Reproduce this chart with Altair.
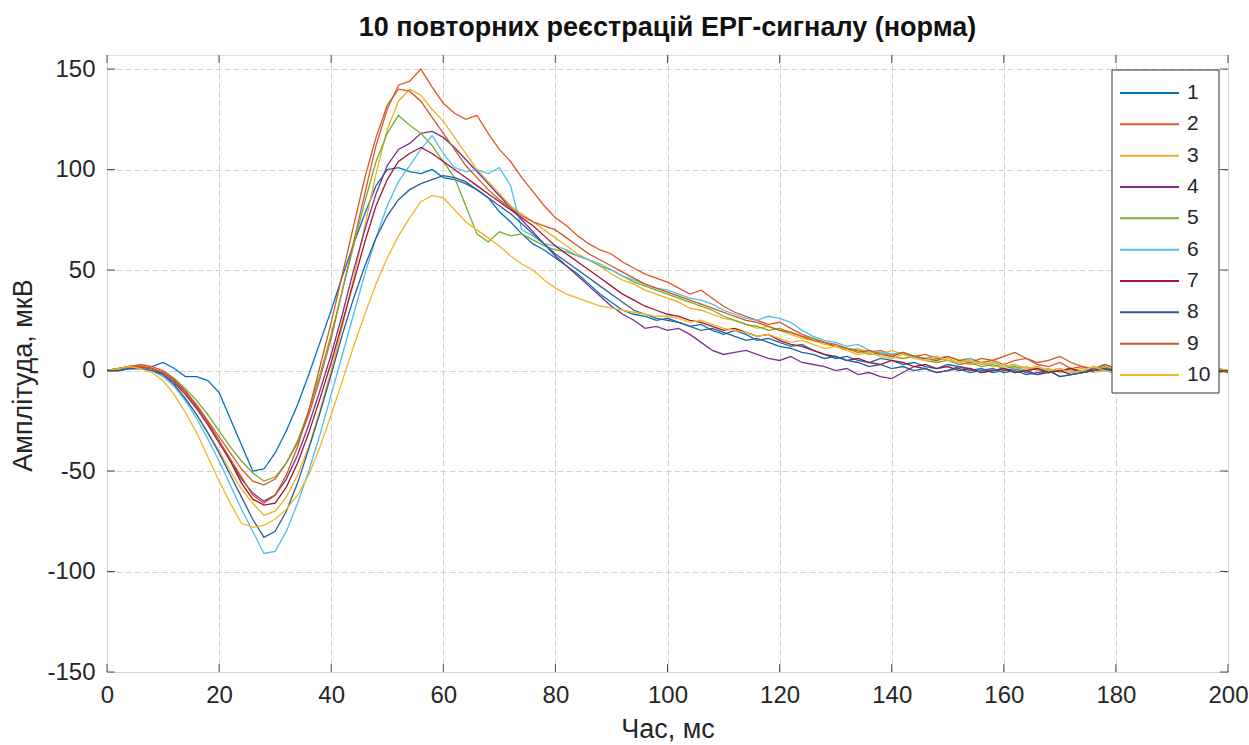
import altair as alt
import pandas as pd

# time axis (ms), sampled every 2 ms
t = list(range(0, 201, 2))

s1 = [0, 0, 1, 1, 2, 4, 1, -3, -3, -5,
      -11, -24, -37, -50, -49, -41, -30, -17, -2, 14,
      30, 47, 63, 78, 92, 100, 101, 99, 98, 100,
      96, 95, 93, 90, 86, 79, 74, 68, 63, 60,
      56, 52, 48, 43, 38, 34, 30, 28, 27, 25,
      26, 24, 22, 23, 20, 18, 20, 18, 15, 16,
      14, 12, 13, 10, 8, 6, 7, 5, 4, 6,
      5, 3, 4, 2, 1, 3, 2, 0, 1, -1,
      0, 1, -1, -2, 0, -3, -2, -1, 0, 1,
      -1, 0, 1, -1, 0, 1, 0, -1, 0, 1,
      0]
s2 = [0, 1, 2, 3, 2, 0, -4, -10, -17, -25,
      -33, -41, -49, -55, -57, -54, -46, -36, -22, -4,
      16, 40, 64, 88, 112, 130, 142, 144, 150, 141,
      133, 128, 125, 127, 118, 110, 104, 96, 89, 82,
      76, 72, 67, 63, 60, 58, 54, 51, 48, 46,
      44, 41, 38, 40, 36, 32, 29, 27, 25, 23,
      24, 21, 18, 16, 14, 13, 11, 10, 9, 10,
      8, 9, 7, 8, 6, 7, 5, 6, 4, 5,
      3, 5, 6, 3, 2, 4, 1, 2, 0, 3,
      1, -1, 0, 2, 1, -1, 0, 1, -1, 0,
      0]
s3 = [0, 1, 2, 2, 1, -2, -7, -14, -22, -31,
      -40, -50, -59, -66, -72, -70, -63, -52, -38, -20,
      0, 22, 46, 72, 98, 120, 134, 140, 137, 130,
      124, 116, 108, 100, 94, 88, 82, 78, 74, 70,
      66, 62, 58, 55, 52, 48, 45, 43, 40, 38,
      36, 34, 31, 30, 28, 26, 25, 23, 21, 22,
      20, 18, 16, 15, 13, 12, 10, 11, 9, 8,
      10, 8, 7, 6, 5, 6, 4, 3, 4, 2,
      3, 1, 2, 0, 1, -1, 0, 1, -1, 0,
      1, 0, -1, 0, 1, 0, -1, 0, 1, 0,
      -1]
s4 = [0, 0, 1, 2, 1, -2, -6, -12, -19, -27,
      -36, -45, -54, -61, -65, -62, -54, -42, -27, -10,
      8, 28, 50, 70, 88, 102, 110, 113, 118, 119,
      116, 111, 105, 99, 93, 87, 81, 75, 69, 63,
      57, 52, 47, 42, 37, 32, 28, 25, 21, 22,
      20, 21, 18, 14, 10, 8, 9, 10, 8, 6,
      5, 7, 4, 3, 2, 0, 1, -2, -1, -3,
      -4, -1, 2, 1, -1, 0, 2, 1, -1, 0,
      1, -1, 0, -2, -1, 0, -2, -1, 1, 0,
      -1, 0, 1, 0, -1, 0, 1, 0, -1, 0,
      0]
s5 = [0, 1, 1, 2, 1, -1, -4, -9, -15, -22,
      -30, -38, -45, -51, -55, -53, -46, -35, -20, -2,
      18, 40, 62, 84, 104, 118, 127, 122, 118, 112,
      104, 96, 82, 68, 64, 69, 67, 68, 65, 62,
      60, 59, 57, 55, 52, 50, 47, 44, 42, 40,
      38, 36, 34, 32, 30, 27, 25, 23, 22, 20,
      21, 19, 17, 16, 14, 12, 11, 10, 8, 9,
      7, 6, 7, 5, 4, 5, 3, 4, 2, 3,
      1, 2, 0, 1, -1, 0, 1, -1, 0, 2,
      0, 1, -1, 0, 1, 0, -1, 0, 1, 0,
      0]
s6 = [0, 0, 1, 1, 0, -3, -8, -15, -24, -34,
      -45, -57, -69, -80, -91, -90, -80, -66, -50, -32,
      -12, 8, 28, 48, 66, 82, 94, 102, 110, 117,
      108, 101, 99, 100, 98, 101, 92, 70, 67, 63,
      62, 60, 57, 55, 53, 50, 47, 45, 43, 41,
      40, 38, 36, 35, 33, 30, 28, 26, 25, 27,
      26, 24, 20, 17, 15, 14, 12, 13, 10, 9,
      8, 9, 7, 6, 7, 5, 4, 6, 3, 4,
      2, 3, 1, 2, 0, 1, -1, 0, 2, 0,
      -1, 1, 0, -1, 0, 1, 0, -1, 0, 1,
      0]
s7 = [0, 1, 2, 2, 1, -1, -5, -11, -18, -26,
      -35, -45, -56, -64, -67, -66, -58, -46, -31, -14,
      4, 24, 44, 64, 82, 95, 104, 108, 111, 108,
      104, 100, 96, 92, 88, 84, 80, 76, 72, 67,
      62, 58, 54, 50, 46, 42, 38, 35, 32, 30,
      28, 27, 25, 24, 22, 20, 21, 19, 17, 18,
      15, 13, 12, 10, 8, 7, 5, 6, 4, 3,
      5, 4, 2, 3, 1, 2, 0, 1, -1, 0,
      1, -1, 0, 1, -1, 0, 1, -1, 0, 1,
      0, -1, 0, 1, 0, -1, 0, 1, 0, -1,
      0]
s8 = [0, 0, 1, 1, 0, -2, -7, -14, -22, -31,
      -41, -52, -63, -74, -83, -80, -70, -56, -39, -21,
      -2, 18, 36, 52, 66, 77, 85, 90, 93, 95,
      97, 96, 94, 90, 86, 82, 78, 73, 68, 63,
      58, 54, 50, 46, 42, 38, 34, 30, 28, 26,
      25, 24, 22, 20, 21, 19, 17, 15, 16, 14,
      12, 11, 9, 8, 6, 7, 5, 4, 2, 3,
      1, 2, 0, 1, -1, 0, 1, -1, 0, 1,
      -1, 0, -2, -1, 0, -3, -2, -1, 0, 1,
      -1, 0, 1, 0, -1, 0, 1, 0, -1, 0,
      0]
s9 = [0, 1, 2, 2, 1, -1, -5, -11, -18, -26,
      -35, -44, -53, -62, -66, -62, -52, -38, -20, 2,
      24, 48, 72, 96, 116, 132, 140, 139, 134, 126,
      118, 110, 102, 96, 90, 85, 81, 77, 74, 72,
      70, 66, 62, 58, 55, 52, 49, 46, 43, 41,
      39, 37, 35, 33, 31, 29, 27, 25, 24, 22,
      20, 19, 17, 15, 14, 12, 11, 9, 10, 8,
      7, 9, 7, 6, 5, 7, 5, 4, 6, 5,
      7, 9, 6, 4, 5, 7, 4, 2, 1, 3,
      1, 2, 0, 1, -1, 0, 1, -1, 0, 1,
      -1]
s10 = [0, 1, 2, 1, -1, -5, -12, -21, -31, -43,
       -55, -66, -76, -78, -77, -74, -69, -62, -52, -38,
       -22, -5, 12, 28, 43, 56, 67, 76, 84, 87,
       86, 80, 74, 70, 66, 62, 57, 53, 50, 45,
       41, 38, 36, 34, 32, 31, 30, 29, 28, 27,
       27, 26, 24, 25, 23, 21, 20, 19, 17, 18,
       16, 14, 15, 13, 11, 12, 10, 8, 9, 7,
       6, 8, 6, 5, 7, 5, 4, 5, 3, 4,
       2, 3, 1, 2, 0, 1, -1, 0, 2, 0,
       -1, 1, 0, -1, 0, 1, 0, -1, 0, 1,
       0]

names = ["1", "2", "3", "4", "5", "6", "7", "8", "9", "10"]
all_series = [s1, s2, s3, s4, s5, s6, s7, s8, s9, s10]
colors = ["#0072BD", "#E4542A", "#EDB120", "#7E2F8E", "#77AC30",
          "#4DBEEE", "#A2142F", "#2B5C9E", "#C85A22", "#F2B526"]

x_ticks = [0, 20, 40, 60, 80, 100, 120, 140, 160, 180, 200]
y_ticks = [-150, -100, -50, 0, 50, 100, 150]

rows = []
for k, (name, vals) in enumerate(zip(names, all_series)):
    for ti, v in zip(t, vals):
        rows.append({"t": ti, "v": v, "series": name, "k": k})
df = pd.DataFrame(rows)

FONT = "Liberation Sans"
W, H = 1121, 617
TXT = "#262626"
BOX = "#4d4d4d"
TICK_LEN = 8

x_scale = alt.Scale(domain=[0, 200], nice=False, zero=False)
y_scale = alt.Scale(domain=[-150, 157], nice=False, zero=False)
color_scale = alt.Scale(domain=names, range=colors)

x_axis = alt.Axis(values=x_ticks, title="Час, мс", grid=True,
                  gridDash=[6, 3], gridColor="#d2d2d2", ticks=False,
                  domain=False, labelFontSize=24, labelFont=FONT,
                  labelColor=TXT, labelPadding=11, labelFlush=False,
                  titleFont=FONT, titleFontSize=27,
                  titleFontWeight="normal", titleColor=TXT, titlePadding=9,
                  labelExpr="'' + datum.value")
y_axis = alt.Axis(values=y_ticks, title="Амплітуда, мкВ", grid=True,
                  gridDash=[6, 3], gridColor="#d2d2d2", ticks=False,
                  domain=False, labelFontSize=24, labelFont=FONT,
                  labelColor=TXT, labelPadding=12, labelFlush=False,
                  titleFont=FONT, titleFontSize=27,
                  titleFontWeight="normal", titleColor=TXT, titlePadding=9,
                  titleY=320, labelExpr="'' + datum.value")

lines = alt.Chart(df).mark_line(strokeWidth=1.3, clip=True).encode(
    x=alt.X("t:Q", scale=x_scale, axis=x_axis),
    y=alt.Y("v:Q", scale=y_scale, axis=y_axis),
    color=alt.Color("series:N", scale=color_scale, legend=None),
    order=alt.Order("k:Q"),
)

xt_df = pd.DataFrame({"t": x_ticks})
yt_df = pd.DataFrame({"v": y_ticks})

tick_bottom = alt.Chart(xt_df).mark_rule(color=BOX, strokeWidth=1).encode(
    x=alt.X("t:Q", scale=x_scale, axis=x_axis),
    y=alt.value(H), y2=alt.value(H - TICK_LEN))
tick_top = alt.Chart(xt_df).mark_rule(color=BOX, strokeWidth=1).encode(
    x=alt.X("t:Q", scale=x_scale, axis=x_axis),
    y=alt.value(0), y2=alt.value(TICK_LEN))
tick_left = alt.Chart(yt_df).mark_rule(color=BOX, strokeWidth=1).encode(
    y=alt.Y("v:Q", scale=y_scale, axis=None),
    x=alt.value(0), x2=alt.value(TICK_LEN))
tick_right = alt.Chart(yt_df).mark_rule(color=BOX, strokeWidth=1).encode(
    y=alt.Y("v:Q", scale=y_scale, axis=None),
    x=alt.value(W), x2=alt.value(W - TICK_LEN))

# legend box (drawn as marks, MATLAB style)
box_df = pd.DataFrame({"a": [0]})
leg_box = alt.Chart(box_df).mark_rect(fill="white", stroke="#333333",
                                      strokeWidth=1).encode(
    x=alt.value(1005), x2=alt.value(1112),
    y=alt.value(15), y2=alt.value(338))

leg_df = pd.DataFrame({"series": names})
leg_y = alt.Y("series:N", sort=names,
              scale=alt.Scale(type="point", domain=names, range=[38, 320],
                              padding=0),
              axis=None)
leg_lines = alt.Chart(leg_df).mark_rule(strokeWidth=2).encode(
    y=leg_y, x=alt.value(1013), x2=alt.value(1072),
    color=alt.Color("series:N", scale=color_scale, legend=None))
leg_text = alt.Chart(leg_df).mark_text(align="left", baseline="middle",
                                       fontSize=21, font=FONT,
                                       color=TXT).encode(
    y=leg_y, x=alt.value(1080), text="series:N")

chart = alt.layer(
    lines, tick_bottom, tick_top, tick_left, tick_right,
    leg_box, leg_lines, leg_text
).resolve_scale(y="independent").properties(
    width=W, height=H,
    title=alt.TitleParams("10 повторних реєстрацій ЕРГ-сигналу (норма)",
                          font=FONT, fontSize=27, fontWeight="bold",
                          color="#111111", anchor="middle", offset=13),
    padding={"left": 107, "top": 55, "right": 21, "bottom": 73},
    autosize=alt.AutoSizeParams(type="none"),
).configure_view(stroke=BOX, strokeWidth=1).configure(background="white")

chart.save("out.html", embed_options={"renderer": "svg", "actions": False})
